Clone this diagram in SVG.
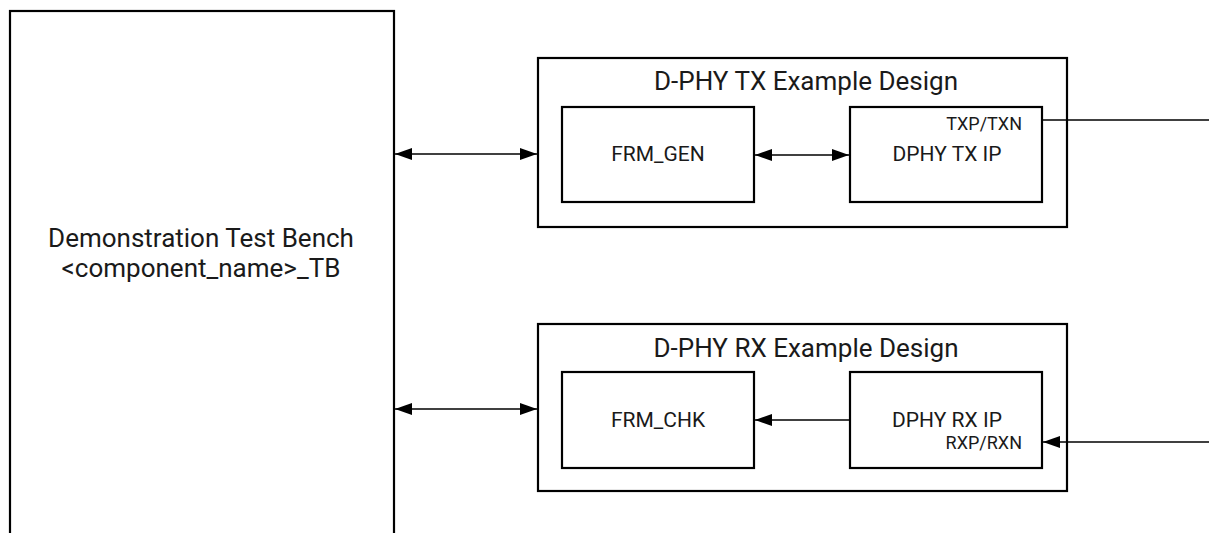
<svg xmlns="http://www.w3.org/2000/svg" width="1209" height="533" viewBox="0 0 1209 533">
<style>
.box{fill:#fff;stroke:#000;stroke-width:2.2}
.ln{fill:none;stroke:#000;stroke-width:1.3}
text{font-family:Roboto,"Liberation Sans",sans-serif;fill:#1a1a1a;text-anchor:middle}
.t24{font-size:26px}
.t20{font-size:21px}
.t16{font-size:18px}
</style>
<defs>
<marker id="ah" viewBox="0 0 17 12" refX="17" refY="6" markerWidth="17" markerHeight="12" markerUnits="userSpaceOnUse" orient="auto-start-reverse">
<path d="M0,0 L17,6 L0,12 Z" fill="#000"/>
</marker>
</defs>
<g id="tb">
<rect class="box" x="10" y="11" width="384" height="540"/>
<text class="t24" x="201" y="247">Demonstration Test Bench</text>
<text class="t24" x="201" y="277">&lt;component_name&gt;_TB</text>
</g>
<g id="tx-design">
<rect class="box" x="538" y="58" width="529" height="169"/>
<text class="t24" x="806" y="90">D-PHY TX Example Design</text>
</g>
<g id="frm-gen">
<rect class="box" x="562" y="107" width="192" height="95"/>
<text class="t20" x="658" y="161">FRM_GEN</text>
</g>
<g id="dphy-tx">
<rect class="box" x="850" y="107" width="192" height="95"/>
<text class="t20" x="947" y="161">DPHY TX IP</text>
<text class="t16" x="1022" y="130" style="text-anchor:end">TXP/TXN</text>
</g>
<g id="rx-design">
<rect class="box" x="538" y="324" width="529" height="167"/>
<text class="t24" x="806" y="357">D-PHY RX Example Design</text>
</g>
<g id="frm-chk">
<rect class="box" x="562" y="372" width="192" height="96"/>
<text class="t20" x="658" y="427">FRM_CHK</text>
</g>
<g id="dphy-rx">
<rect class="box" x="850" y="372" width="192" height="96"/>
<text class="t20" x="947" y="427">DPHY RX IP</text>
<text class="t16" x="1022" y="449" style="text-anchor:end">RXP/RXN</text>
</g>
<g id="connectors">
<line class="ln" x1="395" y1="154" x2="537" y2="154" marker-start="url(#ah)" marker-end="url(#ah)"/>
<line class="ln" x1="395" y1="409" x2="537" y2="409" marker-start="url(#ah)" marker-end="url(#ah)"/>
<line class="ln" x1="755" y1="155" x2="849" y2="155" marker-start="url(#ah)" marker-end="url(#ah)"/>
<line class="ln" x1="850" y1="420" x2="755" y2="420" marker-end="url(#ah)"/>
<line class="ln" x1="1043" y1="120" x2="1209" y2="120"/>
<line class="ln" x1="1209" y1="442" x2="1043" y2="442" marker-end="url(#ah)"/>
</g>
</svg>
